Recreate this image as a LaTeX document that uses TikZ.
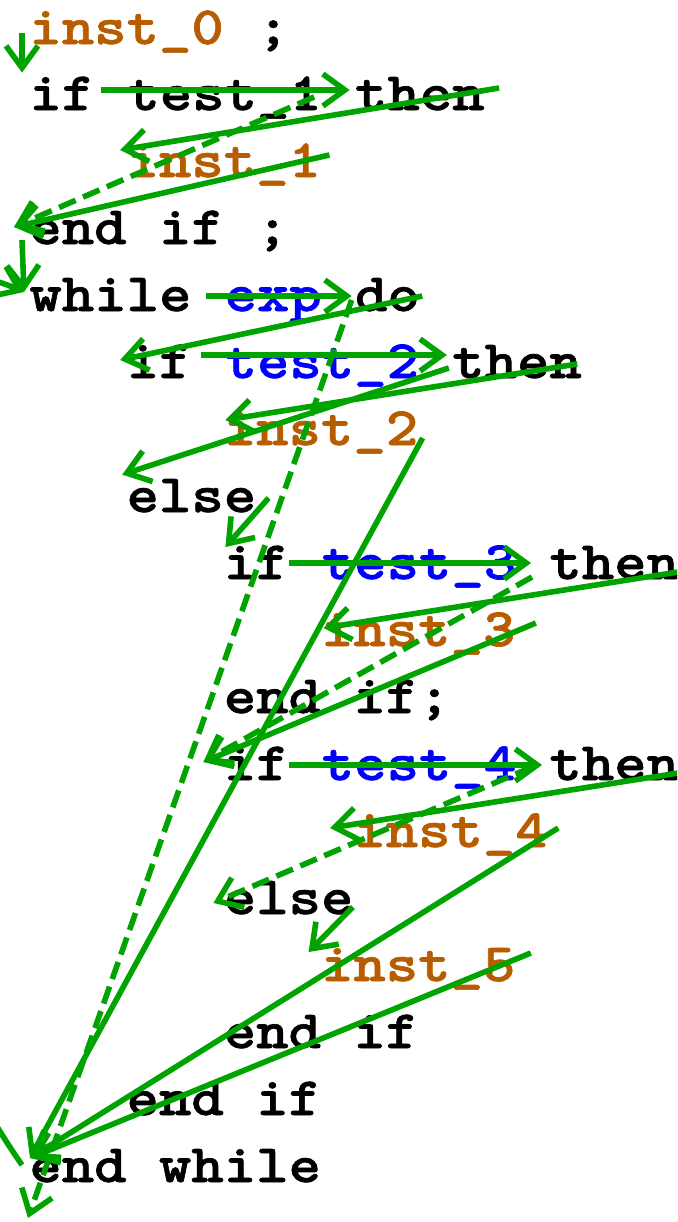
\documentclass[tikz,border=0pt]{standalone}
\usepackage{fontspec}
\newfontfamily\codefont{lmmonolt10-bold.otf}[FakeStretch=1.143, FakeBold=1.2]
\usepackage{tikz}
\usetikzlibrary{positioning, arrows.meta}

\definecolor{instbrown}{RGB}{184,92,0}
\definecolor{condblue}{RGB}{0,0,255}
\definecolor{flowgreen}{RGB}{0,163,0}

\begin{document}
\begin{tikzpicture}[
  x=0.5pt, y=-0.5pt,
  node distance=16.2pt,
  code/.style={anchor=base west, inner sep=0pt, text height=20pt, text depth=4pt, font=\codefont\fontsize{27pt}{32pt}\selectfont},
  inst/.style={code, text=instbrown},
  cond/.style={code, text=condblue},
  flow/.style={-{Straight Barb[length=11pt, width=16pt]}, line width=2.8pt, draw=flowgreen},
  skip/.style={flow, dash pattern=on 9pt off 4pt}
]
  \useasboundingbox (0,0) rectangle (677,1222);
  \clip (0,0) rectangle (677,1222);

  % program text
  \node[inst] (inst0) at (29,44) {inst\_0};
  \node[code, right=of inst0] (semi0) {;};
  \node[code] (if1) at (29,110) {if};
  \node[code, right=of if1] (test1) {test\_1};
  \node[code, right=of test1] (then1) {then};
  \node[inst] (inst1) at (126.2,177) {inst\_1};
  \node[code] (endif1) at (29,244) {end if ;};
  \node[code] (while4) at (29,311) {while};
  \node[cond, right=of while4] (exp4) {exp};
  \node[code, right=of exp4] (do4) {do};
  \node[code] (if2) at (126.2,378) {if};
  \node[cond, right=of if2] (test2) {test\_2};
  \node[code, right=of test2] (then2) {then};
  \node[inst] (inst2) at (223.4,445) {inst\_2};
  \node[code] (else1) at (126.2,512) {else};
  \node[code] (if3) at (223.4,579) {if};
  \node[cond, right=of if3] (test3) {test\_3};
  \node[code, right=of test3] (then3) {then};
  \node[inst] (inst3) at (320.6,646) {inst\_3};
  \node[code] (endif3) at (223.4,713) {end if;};
  \node[code] (if4) at (223.4,780) {if};
  \node[cond, right=of if4] (test4) {test\_4};
  \node[code, right=of test4] (then4) {then};
  \node[inst] (inst4) at (353,847) {inst\_4};
  \node[code] (else2) at (223.4,914) {else};
  \node[inst] (inst5) at (320.6,981) {inst\_5};
  \node[code] (endif4) at (223.4,1048) {end if};
  \node[code] (endif2) at (126.2,1115) {end if};
  \node[code] (endwhile) at (29,1182) {end while};
  \coordinate (exit) at (28,1218);

  % sequence and first if
  \draw[flow] ([shift={(-7,5)}]inst0.west) -- ([shift={(-7,3)}]if1.north west);
  \draw[flow] ([shift={(6,-4)}]if1.east) -- ([shift={(-5,-4)}]then1.west);
  \draw[flow] ([shift={(14,-6)}]then1.east) -- ([shift={(-6,-11)}]inst1.west);
  \draw[skip] ([shift={(-8,3)}]test1.east) -- ([shift={(-15,-1)}]endif1.west);
  \draw[flow] ([shift={(8,-6)}]inst1.east) -- ([shift={(-15,-1)}]endif1.west);
  \draw[flow] ([shift={(-7,12)}]endif1.west) -- ([shift={(-5,-3)}]while4.west);
  \draw[flow] ([shift={(-7,-1)}]endwhile.west) .. controls (-230,800) and (-230,180) .. ([shift={(-5,-3)}]while4.west);

  % while loop
  \draw[flow] ([shift={(14,1)}]while4.east) -- ([shift={(-3,1)}]do4.west);
  \draw[flow] ([shift={(2,1)}]do4.east) -- ([shift={(-6,-2)}]if2.west);
  \draw[skip] ([shift={(-3,5)}]do4.west) -- (exit);

  % if test_2
  \draw[flow] ([shift={(9,-7)}]if2.east) -- ([shift={(-5,-7)}]then2.west);
  \draw[flow] ([shift={(-5,2)}]then2.east) -- ([shift={(2,-9)}]inst2.west);
  \draw[flow] ([shift={(-3,6)}]then2.west) -- ([shift={(-4,3)}]else1.north west);
  \draw[flow] ([shift={(4,9)}]inst2.east) -- ([shift={(1,-8)}]endwhile.west);

  % else branch
  \draw[flow] ([shift={(12,2)}]else1.east) -- ([shift={(2,-16)}]if3.west);
  \draw[flow] (if3.east) -- ([shift={(-18,0)}]then3.west);
  \draw[flow] ([shift={(5,8)}]then3.east) -- ([shift={(3,-2)}]inst3.west);
  \draw[skip] ([shift={(-17,14)}]then3.west) -- ([shift={(-20,-2)}]if4.west);
  \draw[flow] ([shift={(20,-7)}]inst3.east) -- ([shift={(-20,-2)}]if4.west);
  \draw[flow] ([shift={(0,1)}]if4.east) -- ([shift={(-7,1)}]then4.west);
  \draw[flow] ([shift={(5,8)}]then4.east) -- ([shift={(-23,-3)}]inst4.west);
  \draw[skip] ([shift={(-17,3)}]then4.west) -- ([shift={(-10,5)}]else2.west);
  \draw[flow] ([shift={(-1,9)}]else2.east) -- ([shift={(-12,-13)}]inst5.west);
  \draw[flow] ([shift={(10,-3)}]inst4.east) -- ([shift={(1,-8)}]endwhile.west);
  \draw[flow] ([shift={(15,-12)}]inst5.east) -- ([shift={(1,-8)}]endwhile.west);
\end{tikzpicture}
\end{document}
